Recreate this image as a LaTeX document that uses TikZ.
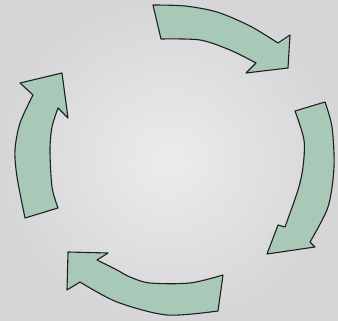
\documentclass[tikz,border=0pt]{standalone}
\usetikzlibrary{calc}
\definecolor{paperlight}{RGB}{236,236,238}
\definecolor{paperdark}{RGB}{214,214,216}
\definecolor{leaf}{RGB}{168,200,184}
\definecolor{pencil}{RGB}{30,32,30}

\begin{document}
\begin{tikzpicture}[
  x=1pt,y=-1pt,
  paper/.style={inner color=paperlight,outer color=paperdark},
  sketcharrow/.style={draw=pencil,fill=leaf,line width=1.1pt,line join=round,line cap=round}
]
\shade[paper] (0,0) rectangle (338,321);
\useasboundingbox (0,0) rectangle (338,321);

% top arrow, pointing down-right
\draw[sketcharrow] (153,5) -- plot[smooth] coordinates {(153,5) (185,6) (217,12) (250,26) (278,43)}
  -- (290,35) -- (288,68) -- (246,73) -- (256,63)
  -- plot[smooth] coordinates {(256,63) (230,50) (200,40) (161,39)} -- cycle;

% right arrow, pointing down-left
\draw[sketcharrow] (295,111) -- (325,102)
  -- plot[smooth] coordinates {(325,102) (332,127) (334,167) (328,207) (310,242)}
  -- (315,247) -- (267,254) -- (278,225) -- (285,227)
  -- plot[smooth] coordinates {(285,227) (298,190) (303,167) (304,140) (295,111)} -- cycle;

% bottom arrow, pointing up-left
\draw[sketcharrow] (223,275)
  -- plot[smooth] coordinates {(223,275) (190,283) (150,283) (130,277) (117,270) (97,260)}
  -- (108,253) -- (68,252) -- (67,290) -- (80,282)
  -- plot[smooth] coordinates {(80,282) (117,302) (167,315) (218,311)} -- cycle;

% left arrow, pointing up
\draw[sketcharrow] (25,218)
  -- plot[smooth] coordinates {(25,218) (17,177) (15,150) (20,123) (33,95)}
  -- (20,83) -- (62,73) -- (68,118) -- (58,108)
  -- plot[smooth] coordinates {(58,108) (52,127) (50,150) (52,187) (58,208)} -- cycle;
\end{tikzpicture}
\end{document}
